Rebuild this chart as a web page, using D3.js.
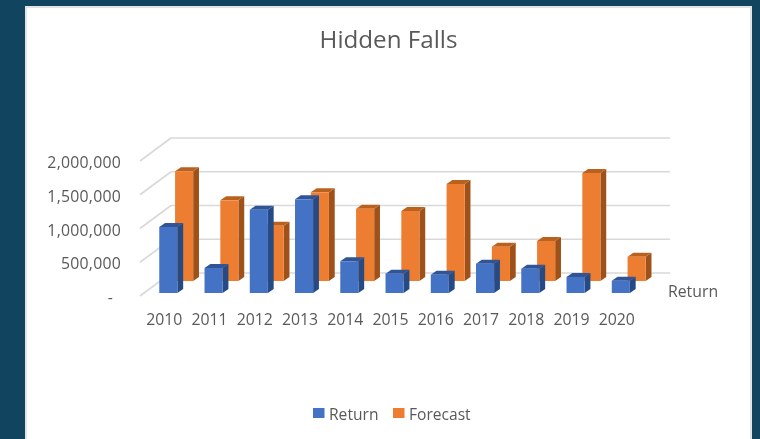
<!DOCTYPE html>
<html><head><meta charset="utf-8">
<script src="https://cdn.jsdelivr.net/npm/d3@7"></script>
<style>
html,body{margin:0;padding:0;background:#11445e;width:760px;height:439px;overflow:hidden}
svg{display:block;font-family:"Open Sans","Noto Sans",sans-serif;filter:blur(0.35px)}
</style></head><body>
<svg id="c" width="760" height="439"></svg>
<script>
const years = [2010,2011,2012,2013,2014,2015,2016,2017,2018,2019,2020];
const returnValues = [978000,370000,1234000,1388000,470000,286000,270000,435000,360000,237000,182000];
const forecastValues = [1625000,1195000,820000,1314000,1071000,1037000,1437000,509000,593000,1600000,360000];
const yTicks = [0,500000,1000000,1500000,2000000];
const seriesNames = ["Return","Forecast"];

const svg = d3.select("#c");
const textCol = "#595959";
const gridCol = "#d9d9d9";

// panel
svg.append("rect").attr("x",26).attr("y",7).attr("width",725).attr("height",440)
  .attr("fill","#fff").attr("stroke","#e3e3e3").attr("stroke-width",2);

// scales
const x = d3.scaleBand().domain(years).range([145.7,643.45]).paddingInner(0.6).paddingOuter(0.3);
const y = d3.scaleLinear().domain([0,2000000]).range([293,158]);
const depth = d3.scalePoint().domain(seriesNames).range([0,1]);
const depthDx = 15.8, depthDy = -12;
const faceDx = 5.8, faceDy = -4;
const wallDx = 31, wallDy = -20;
const wallLeft = 140, wallRight = 670;

const chart = svg.append("g");

// gridlines
const grid = chart.append("g").selectAll("g").data(yTicks).join("g");
grid.append("line")
  .attr("x1",wallLeft+wallDx).attr("x2",wallRight)
  .attr("y1",d=>y(d)+wallDy).attr("y2",d=>y(d)+wallDy);
grid.append("line")
  .attr("x1",wallLeft).attr("x2",wallLeft+wallDx)
  .attr("y1",d=>y(d)+3).attr("y2",d=>y(d)+wallDy);
grid.selectAll("line").attr("stroke",gridCol).attr("stroke-width",1.6);

// bars
const layers = [
  {name:"Forecast",values:forecastValues,front:"#ed7d31",top:"#b9621f",side:"#9e5219"},
  {name:"Return",values:returnValues,front:"#4472c4",top:"#2f5597",side:"#264a84"}
];
layers.forEach(l=>{
  const ox = depth(l.name)*depthDx, oy = depth(l.name)*depthDy;
  const g = chart.append("g").selectAll("g").data(years.map((yr,i)=>({yr,v:l.values[i]}))).join("g");
  const bw = x.bandwidth();
  g.append("path").attr("fill",l.side).attr("d",d=>{
    const r=x(d.yr)+ox+bw, t=y(d.v)+oy, b=y(0)+oy;
    return `M${r},${t}L${r+faceDx},${t+faceDy}L${r+faceDx},${b+faceDy}L${r},${b}Z`;
  });
  g.append("path").attr("fill",l.top).attr("d",d=>{
    const a=x(d.yr)+ox, t=y(d.v)+oy;
    return `M${a},${t}L${a+faceDx},${t+faceDy}L${a+bw+faceDx},${t+faceDy}L${a+bw},${t}Z`;
  });
  g.append("rect").attr("fill",l.front)
    .attr("x",d=>x(d.yr)+ox).attr("width",bw)
    .attr("y",d=>y(d.v)+oy).attr("height",d=>y(0)-y(d.v));
});

// axes
const yAxis = d3.axisLeft(y).tickValues(yTicks).tickSize(0).tickPadding(0)
  .tickFormat(d=>d===0?"-":d3.format(",")(d));
const yG = svg.append("g").attr("transform","translate(121,4.5)").call(yAxis);
const xAxis = d3.axisBottom(x).tickSize(0).tickPadding(0).tickFormat(d3.format("d"));
const xG = svg.append("g").attr("transform","translate(-4,314)").call(xAxis);
[yG,xG].forEach(g=>{
  g.select(".domain").remove();
  g.selectAll("text").attr("fill",textCol).style("font-size","15.8px").style("font-family",'"Open Sans"');
});
yG.selectAll("text").style("letter-spacing","0.25px");
// the zero label sits inset, as an accounting format leaves it
yG.selectAll(".tick").filter(d=>d===0).select("text").attr("dx",-8);

// depth axis label
svg.append("text").attr("x",668).attr("y",296.5).attr("fill",textCol)
  .style("font-size","15.8px").text(seriesNames[0]);

// title
svg.append("text").attr("x",388.5).attr("y",48).attr("text-anchor","middle")
  .attr("fill",textCol).style("font-size","24.2px").text("Hidden Falls");

// legend
const legend = svg.append("g").selectAll("g").data([
  {name:"Return",col:"#4472c4",sx:313,tx:329},
  {name:"Forecast",col:"#ed7d31",sx:393,tx:409}
]).join("g");
legend.append("rect").attr("x",d=>d.sx).attr("y",408).attr("width",11.5).attr("height",10).attr("fill",d=>d.col);
legend.append("text").attr("x",d=>d.tx).attr("y",419.5).attr("fill",textCol)
  .style("font-size","15.6px").text(d=>d.name);
</script>
</body></html>
